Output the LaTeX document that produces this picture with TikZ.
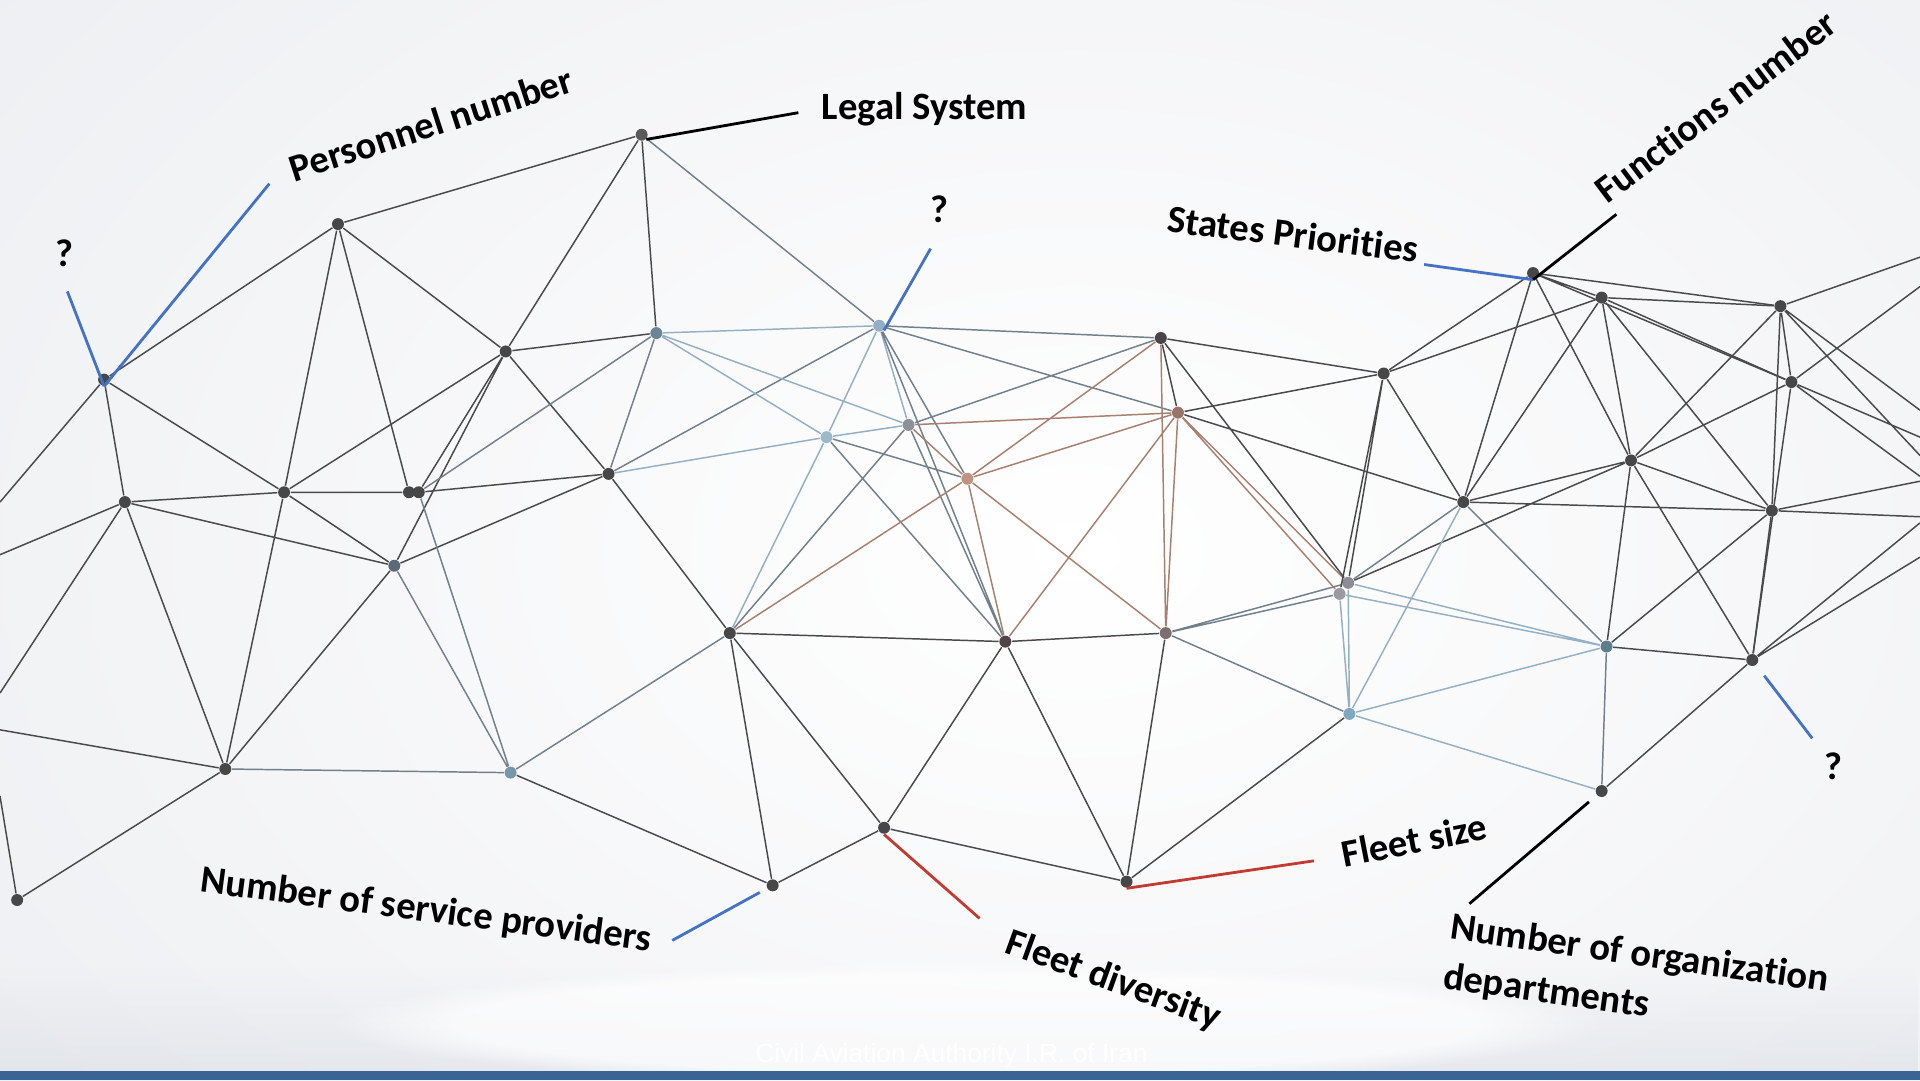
\documentclass[tikz,border=0pt]{standalone}
\usepackage{fontspec}
\setmainfont{Carlito}[Ligatures=NoCommon]
\newfontfamily\footfont{Liberation Sans}
\usetikzlibrary{fadings}

\definecolor{bgedge}{HTML}{E2E4E9}
\definecolor{bandgray}{HTML}{C6CDD8}
\definecolor{wiredark}{HTML}{4A4A4C}
\definecolor{wiremid}{HTML}{72808C}
\definecolor{wirepale}{HTML}{96B0C3}
\definecolor{wirewarm}{HTML}{A8806F}
\definecolor{leadblue}{HTML}{4472C4}
\definecolor{leadred}{HTML}{C23B32}
\definecolor{barblue}{HTML}{3A6494}
% dot tints
\definecolor{dotslate}{RGB}{90,106,120}
\definecolor{dotsteel}{RGB}{108,133,148}
\definecolor{dotsky}{RGB}{148,175,196}
\definecolor{dotmist}{RGB}{158,184,203}
\definecolor{dotgrey}{RGB}{141,144,153}
\definecolor{dotrose}{RGB}{192,146,130}
\definecolor{dotplum}{RGB}{74,68,72}
\definecolor{dotclay}{RGB}{154,116,104}
\definecolor{dotash}{RGB}{140,140,148}
\definecolor{dotfog}{RGB}{154,155,162}
\definecolor{dotteal}{RGB}{95,124,138}
\definecolor{dotblue}{RGB}{127,167,192}
\definecolor{dotmauve}{RGB}{124,110,112}
\definecolor{dotcocoa}{RGB}{81,68,70}
\definecolor{dotharbor}{RGB}{120,150,170}

\tikzfading[name=band fade, top color=transparent!100, middle color=transparent!20, bottom color=transparent!70]

\begin{document}
\begin{tikzpicture}[
    x=0.012245cm, y=-0.012245cm,
    dot/.style={circle, fill=#1, inner sep=0pt, minimum size=3.4pt},
    dot/.default={black!72},
    wire/.style={draw=wiredark, line width=0.42pt},
    wire mid/.style={draw=wiremid, line width=0.42pt},
    wire pale/.style={draw=wirepale, line width=0.42pt},
    wire warm/.style={draw=wirewarm, line width=0.42pt},
    lead/.style={draw=#1, line width=0.8pt},
    tag/.style={font=\bfseries\fontsize{11}{14.2}\selectfont, inner sep=0pt, align=left}
]
\useasboundingbox (0,0) rectangle (1568,882);

% backdrop
\fill[bgedge] (0,0) rectangle (1568,882);
\begin{scope}
\clip (0,0) rectangle (1568,882);
\shade[inner color=white, outer color=bgedge] (880,450) ellipse [x radius=1900, y radius=1300];
\fill[bandgray, path fading=band fade] (0,790) rectangle (1568,876);
\fill[white, opacity=0.7, path fading=circle with fuzzy edge 20 percent] (790,836) ellipse [x radius=520, y radius=50];
\end{scope}
\fill[barblue] (0,875) rectangle (1568,882);
\node[text=white, font=\footfont\fontsize{7.5}{9}\selectfont, inner sep=0pt] (foot) at (777,862) {Civil Aviation Authority I.R. of Iran};

% free ends at the borders
\coordinate (lw1) at (0,410);
\coordinate (lw2) at (0,453);
\coordinate (lw3) at (0,566);
\coordinate (lw4) at (0,596);
\coordinate (lw5) at (0,650);
\coordinate (rt1) at (1568,210);
\coordinate (rt2) at (1568,234);
\coordinate (rt3) at (1568,335);
\coordinate (rt4) at (1568,372);
\coordinate (rt5) at (1568,357);
\coordinate (rt6) at (1568,389);
\coordinate (rt7) at (1568,393);
\coordinate (rt8) at (1568,422);
\coordinate (rt9) at (1568,427);
\coordinate (rt10) at (1568,455);

% mesh points
\node[dot] (a) at (85,310) {};
\node[dot] (b) at (276,183) {};
\node[dot=black!65] (c) at (524,110) {};
\node[dot] (d) at (413,287) {};
\node[dot] (e) at (102,410) {};
\node[dot] (f) at (232,402) {};
\node[dot] (g1) at (334,402) {};
\node[dot] (g2) at (342,402) {};
\node[dot=dotslate] (h) at (322,462) {};
\node[dot] (i) at (497,387) {};
\node[dot=dotsteel] (j) at (536,272) {};
\node[dot=dotsky] (k) at (718,266) {};
\node[dot=dotmist] (l) at (675,357) {};
\node[dot=dotgrey] (m) at (742,347) {};
\node[dot=dotrose] (n) at (790,391) {};
\node[dot=dotplum] (o) at (948,276) {};
\node[dot=dotclay] (p) at (962,337) {};
\node[dot] (q) at (1130,305) {};
\node[dot] (r) at (1252,223) {};
\node[dot] (s) at (1308,243) {};
\node[dot] (t) at (1454,250) {};
\node[dot] (u) at (1463,312) {};
\node[dot] (v) at (1195,410) {};
\node[dot] (w) at (1332,376) {};
\node[dot] (x) at (1447,417) {};
\node[dot=dotash] (y1) at (1101,476) {};
\node[dot=dotfog] (y2) at (1094,485) {};
\node[dot=dotteal] (z) at (1312,528) {};
\node[dot] (aa) at (1431,539) {};
\node[dot=dotblue] (ab) at (1102,583) {};
\node[dot] (ac) at (1308,646) {};
\node[dot=dotmauve] (ad) at (952,517) {};
\node[dot=dotcocoa] (ae) at (821,524) {};
\node[dot] (af) at (596,517) {};
\node[dot] (ag) at (722,676) {};
\node[dot] (ah) at (920,720) {};
\node[dot] (ai) at (631,723) {};
\node[dot=dotharbor] (aj) at (417,631) {};
\node[dot] (ak) at (184,628) {};
\node[dot] (al) at (14,735) {};

% left part of the mesh
\draw[wire] (a) -- (b) (a) -- (e) (a) -- (f) (a) -- (lw1);
\draw[wire] (e) -- (lw2) (e) -- (lw3) (lw4) -- (ak) (lw5) -- (al) (al) -- (ak);
\draw[wire] (e) -- (f) (e) -- (h) (e) -- (ak) (f) -- (ak) (f) -- (b) (f) -- (d) (f) -- (g1) (f) -- (h);
\draw[wire] (b) -- (g1) (b) -- (d) (b) -- (c) (c) -- (d) (c) -- (j) (d) -- (j);
\draw[wire] (d) -- (g2) (d) -- (h) (d) -- (i) (g2) -- (i) (h) -- (i) (h) -- (ak);
\draw[wire mid] (g2) -- (j) (i) -- (j) (i) -- (k) (c) -- (k) (g2) -- (aj) (h) -- (aj) (aj) -- (ak) (af) -- (aj);
\draw[wire] (i) -- (af) (af) -- (ai) (ai) -- (aj) (ai) -- (ag) (af) -- (ag) (af) -- (ae);

% centre
\draw[wire pale] (j) -- (k) (j) -- (l) (j) -- (m) (k) -- (l) (k) -- (m) (i) -- (l) (af) -- (l) (l) -- (m);
\draw[wire mid] (k) -- (n) (k) -- (ae) (k) -- (o) (k) -- (p) (l) -- (n) (l) -- (ae) (m) -- (ae) (af) -- (m) (m) -- (o);
\draw[wire warm] (m) -- (n) (m) -- (p) (n) -- (o) (n) -- (p) (af) -- (n) (n) -- (ae) (n) -- (ad);
\draw[wire warm] (o) -- (ad) (p) -- (ad) (p) -- (ae) (p) -- (y1) (p) -- (y2);
\draw[wire] (o) -- (p) (o) -- (q) (o) -- (y1) (p) -- (q) (p) -- (v);
\draw[wire] (ae) -- (ag) (ae) -- (ah) (ag) -- (ah) (ad) -- (ah) (ah) -- (ab) (ad) -- (ae);
\draw[wire mid] (ab) -- (ad) (y1) -- (ad) (y2) -- (ad) (v) -- (y1) (v) -- (z) (z) -- (ac);

% right part of the mesh
\draw[wire] (q) -- (r) (q) -- (s) (q) -- (v) (q) -- (y1) (q) -- (y2);
\draw[wire] (r) -- (s) (r) -- (t) (r) -- (u) (r) -- (v) (r) -- (w);
\draw[wire] (s) -- (t) (s) -- (u) (s) -- (v) (s) -- (w) (s) -- (x);
\draw[wire] (t) -- (u) (t) -- (w) (t) -- (x) (u) -- (w) (u) -- (aa);
\draw[wire] (v) -- (w) (v) -- (x) (w) -- (x) (w) -- (y1) (w) -- (z) (w) -- (aa);
\draw[wire] (x) -- (z) (x) -- (aa) (z) -- (aa) (aa) -- (ac);
\draw[wire pale] (ab) -- (y1) (ab) -- (y2) (ab) -- (z) (ab) -- (v) (ab) -- (ac) (y1) -- (z) (y2) -- (z);
\draw[wire] (t) -- (rt1) (u) -- (rt2) (t) -- (rt3) (t) -- (rt4) (u) -- (rt5) (u) -- (rt6);
\draw[wire] (x) -- (rt7) (x) -- (rt8) (aa) -- (rt9) (aa) -- (rt10);

% labels
\node[tag] (q1) at (53,207) {?};
\node[tag, rotate=18] (staff) at (352,101) {Personnel number};
\node[tag] (legal) at (755,89) {Legal System};
\node[tag] (q2) at (767,171) {?};
\node[tag, rotate=-7] (prio) at (1056,191) {States Priorities};
\node[tag, rotate=37] (func) at (1401,87) {Functions number};
\node[tag] (q3) at (1497,626) {?};
\node[tag, rotate=-8] (dept) at (1336,800) {Number of organization\\departments};
\node[tag, rotate=11] (fsize) at (1155,686) {Fleet size};
\node[tag, rotate=-20] (fdiv) at (909,801) {Fleet diversity};
\node[tag, rotate=-7.5] (prov) at (348,744) {Number of service providers};

% leader ends
\coordinate (q1e) at (55,238);
\coordinate (staffe) at (220,150);
\coordinate (legale) at (652,92);
\coordinate (q2e) at (760,203);
\coordinate (prioe) at (1163,216);
\coordinate (funce) at (1320,175);
\coordinate (q3e) at (1480,603);
\coordinate (depte) at (1200,738);
\coordinate (fsizee) at (1073,703);
\coordinate (fdive) at (800,750);
\coordinate (prove) at (549,768);

\draw[lead=leadblue] (q1e) -- (a.south);
\draw[lead=leadblue] (staffe) -- (a.south);
\draw[lead=black] (legale) -- (c.south east);
\draw[lead=leadblue] (q2e) -- (k.south east);
\draw[lead=leadblue] (prioe) -- (r.south);
\draw[lead=black] (funce) -- (r.south);
\draw[lead=leadblue, shorten >=1.3mm] (q3e) -- (aa);
\draw[lead=black, shorten >=1mm] (depte) -- (ac);
\draw[lead=leadred] (fsizee) -- (ah.south);
\draw[lead=leadred] (fdive) -- (ag.south);
\draw[lead=leadblue, shorten >=0.8mm] (prove) -- (ai);

\end{tikzpicture}
\end{document}
